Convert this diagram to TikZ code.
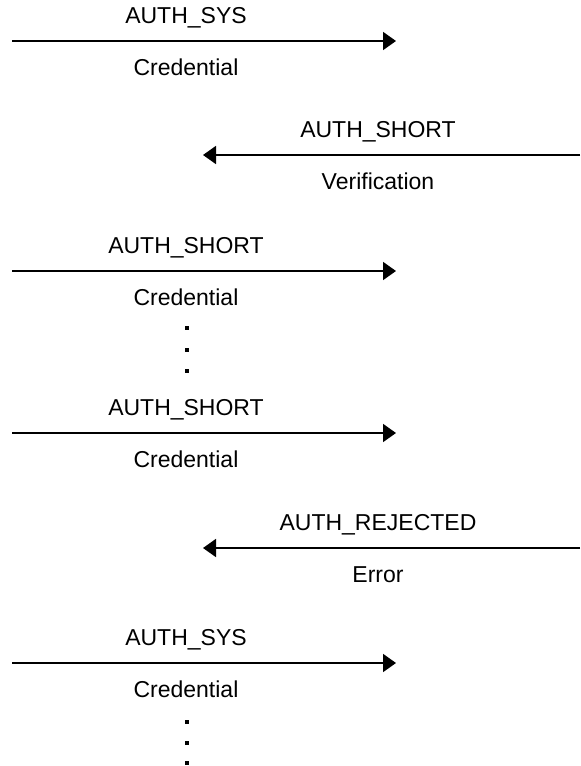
\documentclass[tikz,border=0pt]{standalone}
\usepackage{fontspec}
\setmainfont{Liberation Sans}
\usetikzlibrary{arrows.meta}

\begin{document}
\begin{tikzpicture}[x=0.5pt, y=-0.5pt, every node/.style={font=\fontsize{11.5}{14}\selectfont, inner sep=0pt}, dotbox/.style={fill, minimum size=2.3pt, inner sep=0pt}]
\useasboundingbox (0,0) rectangle (580,766);

% ends of the messages
\coordinate (s1) at (12,41);
\coordinate (e1) at (396,41);
\coordinate (s2) at (580,155);
\coordinate (e2) at (203,155);
\coordinate (s3) at (12,271);
\coordinate (e3) at (396,271);
\coordinate (s4) at (12,433);
\coordinate (e4) at (396,433);
\coordinate (s5) at (580,548);
\coordinate (e5) at (203,548);
\coordinate (s6) at (12,663);
\coordinate (e6) at (396,663);

\node(m1)[anchor=base] at (186,23) {AUTH\_SYS};
\node(c1)[anchor=base] at (186,75) {Credential};

\node(m2)[anchor=base] at (378,137) {AUTH\_SHORT};
\node(v2)[anchor=base] at (378,189) {Verification};

\node(m3)[anchor=base] at (186,253) {AUTH\_SHORT};
\node(c3)[anchor=base] at (186,305) {Credential};

\node(d1)[dotbox] at (187,328) {};
\node(d2)[dotbox] at (187,350) {};
\node(d3)[dotbox] at (187,371) {};

\node(m4)[anchor=base] at (186,415) {AUTH\_SHORT};
\node(c4)[anchor=base] at (186,467) {Credential};

\node(m5)[anchor=base] at (378,530) {AUTH\_REJECTED};
\node(r5)[anchor=base] at (378,582) {Error};

\node(m6)[anchor=base] at (186,645) {AUTH\_SYS};
\node(c6)[anchor=base] at (186,697) {Credential};

\node(d4)[dotbox] at (187,722) {};
\node(d5)[dotbox] at (187,743) {};
\node(d6)[dotbox] at (187,763) {};

\begin{scope}[>={Triangle[length=6.5pt,width=9pt]}, line width=0.9pt]
\draw[->] (s1) -- (e1);
\draw[->] (s2) -- (e2);
\draw[->] (s3) -- (e3);
\draw[->] (s4) -- (e4);
\draw[->] (s5) -- (e5);
\draw[->] (s6) -- (e6);
\end{scope}

\end{tikzpicture}
\end{document}
